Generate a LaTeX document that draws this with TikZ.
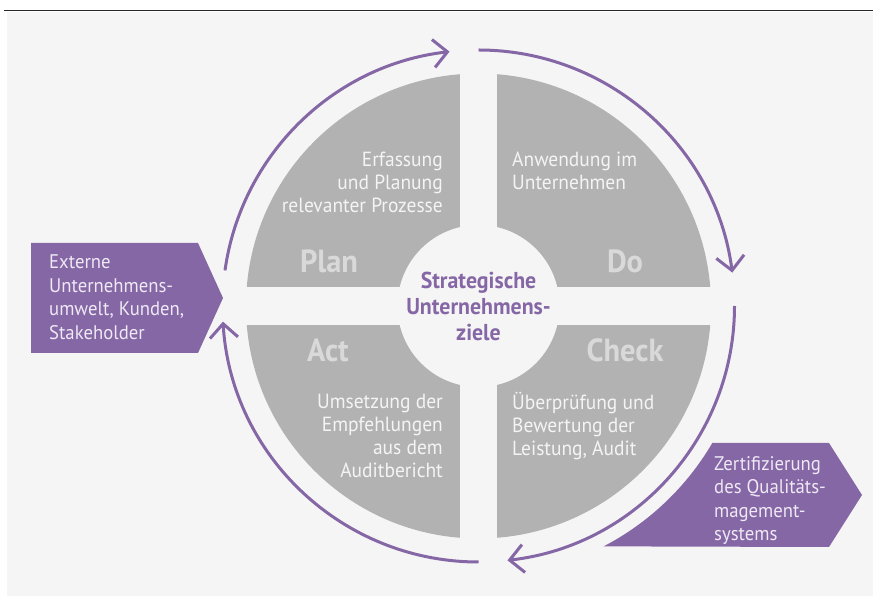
\documentclass[tikz,border=0pt]{standalone}
\usepackage{fontspec}
\setmainfont{PT Sans}[FakeStretch=0.95]
\usepackage{tikz}
\usetikzlibrary{arrows.meta,calc}

\definecolor{pdcaPurple}{RGB}{133,103,166}
\definecolor{pdcaGray}{RGB}{178,178,179}
\definecolor{pdcaBack}{RGB}{245,245,245}
\definecolor{pdcaLabel}{RGB}{217,217,218}
\definecolor{pdcaText}{RGB}{244,244,244}
\definecolor{pdcaBoxText}{RGB}{238,233,244}

\begin{document}
\begin{tikzpicture}[
    x=1pt, y=1pt,
    phase/.style={font=\fontsize{32}{34}\selectfont\bfseries, text=pdcaLabel, inner sep=0pt, anchor=base},
    desc/.style={font=\fontsize{20.5}{23}\selectfont, text=pdcaText, inner sep=0pt},
    boxtext/.style={font=\fontsize{19.7}{23.5}\selectfont, text=pdcaBoxText, inner sep=0pt, align=left, anchor=north west},
    goal/.style={font=\fontsize{23}{26}\selectfont\bfseries, text=pdcaPurple, align=center, inner sep=0pt},
    cycle arrow/.style={draw=pdcaPurple, line width=3pt, -{Straight Barb[length=14pt,width=28pt]}}
]
    \useasboundingbox (0,0) rectangle (873,597);
    \fill[white] (0,0) rectangle (873,597);
    \fill[pdcaBack] (7,1) rectangle (873,585);
    \draw[line width=1.5pt, black!85] (4,586.5) -- (873,586.5);

    \coordinate (c) at (478.5,291);

    % disc cut into four quarters by a cross and a hole
    \fill[pdcaGray] (c) circle[radius=232.5];
    \fill[pdcaBack] (460,50) rectangle (497,532);
    \fill[pdcaBack] (240,272) rectangle (717,310);
    \fill[pdcaBack] (c) circle[radius=81];

    % cycle arrows
    \foreach \s/\e [count=\i] in {172/96.5, 90/7.5, 0/-83.5, -90/-176.5} {
        \coordinate (arc\i) at ($(c)+(\s:256)$);
        \draw[cycle arrow] (arc\i) arc[start angle=\s, end angle=\e, radius=256];
    }

    % input and output boxes
    \fill[pdcaPurple] (31,354) -- (198,354) -- (223,299) -- (198,244) -- (31,244) -- cycle;
    \fill[pdcaPurple] (712,154) -- (829,154) -- (862,102) -- (829,50)
        -- ($(c)+(-62.5:271)$) arc[start angle=-62.5, end angle=-30.4, radius=271] -- cycle;

    \node[goal] (goal) at (c) {Strategische\\Unternehmens-\\ziele};

    \node[phase] (plan) at (329,324) {Plan};
    \node[phase] (do) at (625,324) {Do};
    \node[phase] (act) at (328,235) {Act};
    \node[phase] (check) at (625,235) {Check};

    \node[desc, align=right, anchor=north east] (plantext) at (443,445) {Erfassung\\und Planung\\relevanter Prozesse};
    \node[desc, align=left, anchor=north west] (dotext) at (512,445) {Anwendung im\\Unternehmen};
    \node[desc, align=right, anchor=north east] (acttext) at (443,203) {Umsetzung der\\Empfehlungen\\aus dem\\Auditbericht};
    \node[desc, align=left, anchor=north west] (checktext) at (512,205) {Überprüfung und\\Bewertung der\\Leistung, Audit};

    \node[boxtext] (external) at (49,342) {Externe\\Unternehmens-\\umwelt, Kunden,\\Stakeholder};
    \node[boxtext] (certify) at (714,141) {Zertifizierung\\des Qualitäts-\\magement-\\systems};
\end{tikzpicture}
\end{document}
